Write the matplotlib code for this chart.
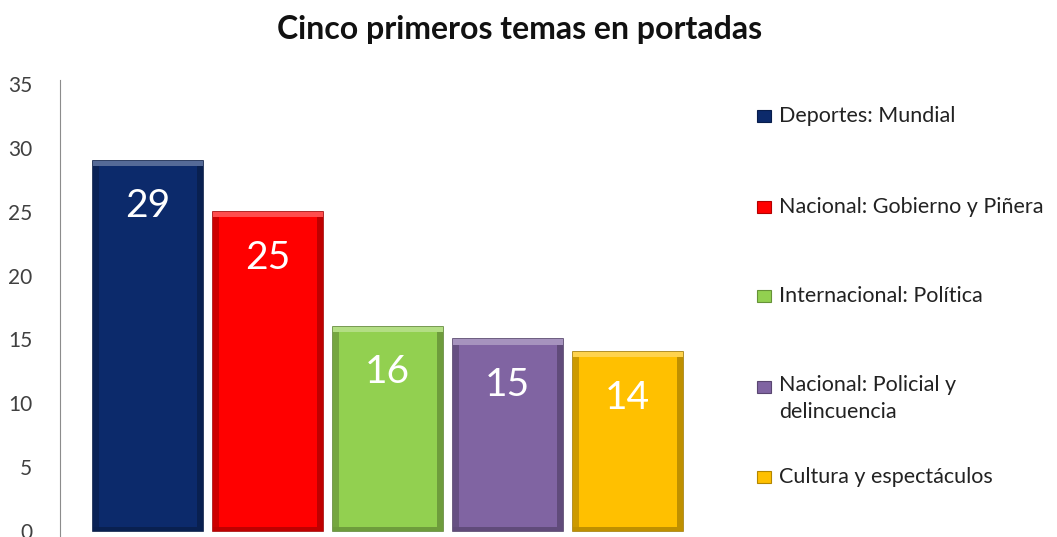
import numpy as np
import matplotlib.pyplot as plt
from matplotlib.colors import to_rgb
from matplotlib.patches import Rectangle

plt.rcParams['font.family'] = ['Lato', 'DejaVu Sans']

# Datos
temas = ["Deportes: Mundial",
         "Nacional: Gobierno y Piñera",
         "Internacional: Política",
         "Nacional: Policial y\ndelincuencia",
         "Cultura y espectáculos"]
portadas = [29, 25, 16, 15, 14]
colores = ["#0c2a6b", "#ff0000", "#92d050", "#8064a2", "#ffc000"]


def mezcla(c, otro, t):
    c = np.array(to_rgb(c))
    return tuple(c * (1 - t) + np.array(to_rgb(otro)) * t)


fig = plt.figure(figsize=(10.57, 5.37), dpi=100)
# y=0 en 531 px, y=35 en 84 px
ppu = 447 / 35
ax = fig.add_axes([60 / 1057, (537 - 531 - 0.4 * ppu) / 537, 655 / 1057, 35.7 * ppu / 537])

x = np.arange(len(portadas))
ancho = 110 / 120
ax.bar(x, portadas, width=ancho, color=colores,
       edgecolor=[mezcla(c, "black", 0.35) for c in colores], linewidth=1.2)

# efecto biselado sencillo
for xi, v, c in zip(x, portadas, colores):
    izq = xi - ancho / 2
    ax.add_patch(Rectangle((izq, v - 0.4), ancho, 0.4, color=mezcla(c, "white", 0.3), lw=0))
    ax.add_patch(Rectangle((izq, 0), 0.05, v - 0.4, color=mezcla(c, "black", 0.2), lw=0))
    ax.add_patch(Rectangle((izq + ancho - 0.05, 0), 0.05, v - 0.4, color=mezcla(c, "black", 0.25), lw=0))
    ax.add_patch(Rectangle((izq, 0), ancho, 0.3, color=mezcla(c, "black", 0.25), lw=0))
    ax.annotate(str(v), (xi, v), xytext=(0, -33), textcoords="offset points",
                ha="center", va="center", color="white", fontsize=28)

ax.set_xlim(-87.5 / 120, (715 - 147.5) / 120)
ax.set_yticks(range(0, 36, 5))
ax.tick_params(axis="y", length=0, pad=20, labelsize=15, labelcolor="#404040")
ax.set_xticks([])
for s in ["top", "right", "bottom"]:
    ax.spines[s].set_visible(False)
ax.spines["left"].set_color("#8c8c8c")
ax.spines["left"].set_bounds(-0.4, 35.3)
ax.set_ylim(-0.4, 35.3)

fig.text(520 / 1057, 1 - 30 / 537, "Cinco primeros temas en portadas",
         ha="center", va="center", fontsize=23, fontweight="bold", color="#111111")

# leyenda
ys = [116, 207, 296, 387, 477]
for t, c, y in zip(temas, colores, ys):
    fig.patches.append(Rectangle((757 / 1057, 1 - (y + 6) / 537), 14 / 1057, 12 / 537,
                                 transform=fig.transFigure, color=c,
                                 ec=mezcla(c, "black", 0.3), lw=0.8))
    if "\n" in t:
        fig.text(779 / 1057, 1 - (y - 12) / 537, t, ha="left", va="top",
                 fontsize=15.5, color="#222222", linespacing=1.45)
    else:
        fig.text(779 / 1057, 1 - y / 537, t, ha="left", va="center",
                 fontsize=15.5, color="#222222")

fig.savefig("out.png", dpi=100)
